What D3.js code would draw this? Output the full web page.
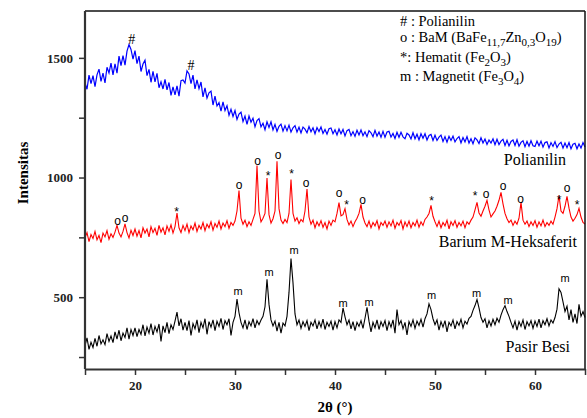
<!DOCTYPE html>
<html>
<head>
<meta charset="utf-8">
<script src="https://cdn.jsdelivr.net/npm/d3@7"></script>
<style>
  body { margin: 0; background: #fff; }
  svg text { font-family: "Liberation Serif", "Times New Roman", serif; }
  .axis text { font-weight: bold; font-size: 13px; fill: #222; font-family: "Liberation Serif", serif; }
  .axis path, .axis line { stroke: #333; }
  .mark { font-family: "Liberation Sans", Arial, sans-serif; }
</style>
</head>
<body>
<script>
// 2theta grid: 15 .. 65 step 0.2 (25 points per row = 5 degrees)
var twoThetaStart = 15;
var twoThetaStep = 0.2;

var polianilin = [
  1395,1369,1428,1392,1426,1380,1429,1453,1402,1436,1395,1461,1437,1478,1429,1475,1436,1507,1468,1509,1470,1528,1556,1535,1495,
  1530,1476,1507,1443,1474,1490,1426,1452,1398,1444,1400,1435,1375,1400,1370,1410,1366,1397,1343,1379,1345,1383,1340,1405,1408,
  1395,1446,1433,1392,1428,1370,1408,1371,1399,1337,1375,1332,1354,1361,1303,1340,1299,1313,1277,1316,1280,1300,1260,1285,1255,
  1280,1243,1265,1273,1234,1257,1222,1257,1231,1248,1212,1238,1246,1212,1227,1200,1233,1209,1233,1199,1222,1193,1214,1223,1194,
  1217,1195,1219,1190,1208,1217,1190,1210,1186,1211,1202,1187,1213,1191,1208,1183,1209,1192,1211,1184,1201,1181,1204,1207,1183,
  1200,1178,1203,1183,1201,1174,1196,1201,1175,1192,1172,1198,1178,1199,1175,1191,1171,1196,1187,1171,1197,1173,1190,1168,1193,
  1168,1190,1193,1169,1184,1163,1189,1168,1189,1170,1162,1185,1178,1161,1187,1162,1181,1157,1183,1164,1183,1157,1176,1180,1155,
  1177,1155,1169,1177,1151,1171,1148,1172,1155,1173,1149,1163,1171,1145,1167,1149,1171,1144,1162,1141,1166,1157,1142,1166,1144,
  1161,1138,1157,1144,1162,1137,1160,1138,1152,1160,1134,1156,1132,1151,1157,1134,1158,1131,1147,1154,1129,1151,1131,1154,1133,
  1130,1152,1133,1152,1127,1146,1149,1124,1146,1130,1150,1125,1140,1147,1123,1144,1125,1146,1120,1139,1143,1120,1140,1123,1146,
  1128
];

var bariumHeksaferit = [
  748,770,732,762,745,775,740,758,728,768,752,778,742,765,750,772,800,768,752,775,806,770,748,780,758,
  785,755,778,748,790,768,785,752,795,770,788,758,800,772,790,760,798,775,802,768,795,852,790,770,800,
  778,805,770,798,782,810,775,800,785,812,778,805,790,815,780,808,792,818,785,810,795,820,788,812,800,
  818,860,946,830,805,822,795,815,800,825,850,1050,860,815,830,850,998,845,810,828,860,1068,870,822,808,
  825,812,850,992,850,818,832,808,825,815,860,952,835,805,822,790,815,798,820,792,812,785,818,800,822,
  815,850,895,840,845,870,825,802,818,795,815,830,850,888,835,810,795,818,790,812,798,820,785,812,800,
  818,792,815,798,822,788,812,800,820,785,815,795,818,790,812,798,822,792,815,800,825,835,850,884,838,
  815,795,818,790,812,798,822,785,815,800,820,792,812,798,818,790,815,805,822,835,865,896,852,838,860,
  880,905,865,835,848,860,880,905,938,890,850,828,812,822,800,818,805,830,896,822,805,818,795,815,800,
  820,792,815,798,822,795,812,800,818,805,835,870,925,860,850,880,921,872,835,818,830,845,871,835,812,
  805
];

var pasirBesi = [
  298,330,282,312,290,328,295,340,305,322,302,348,315,338,310,355,325,362,318,350,332,372,325,365,340,
  372,335,365,345,385,338,375,350,390,342,378,355,388,315,380,352,395,348,385,365,400,438,380,410,362,
  395,360,402,340,390,368,405,352,395,372,410,345,398,375,405,360,400,378,412,365,402,385,410,340,395,
  420,492,435,395,372,405,365,398,380,410,372,402,385,405,420,460,575,470,405,380,400,358,395,350,392,
  380,420,520,662,560,430,385,405,370,398,378,402,360,395,380,405,368,398,375,408,365,395,378,400,362,
  398,372,405,395,455,418,385,405,368,398,360,395,378,402,370,412,458,400,355,395,372,405,365,398,378,
  402,360,398,375,405,350,448,385,402,368,395,342,398,378,405,370,400,382,408,375,410,430,472,448,410,
  385,405,362,398,375,402,355,395,380,405,368,398,382,408,372,400,388,412,420,445,465,490,455,415,395,
  410,372,402,380,408,385,412,395,425,448,465,440,420,395,372,400,362,398,378,405,365,398,380,402,370,
  400,378,408,372,402,385,410,380,405,392,415,450,535,520,480,440,462,405,448,395,430,390,470,420,440,
  415
];

// peak markers: [2theta, intensity at symbol centre]
var hashMarks = [[19.67, 1577], [25.6, 1469]];
var bamMarks = [[18.25, 818], [19.0, 828], [30.4, 967], [32.25, 1069], [34.3, 1093], [37.1, 975],
  [40.4, 935], [42.75, 905], [55.1, 930], [56.8, 963], [58.55, 909], [63.2, 954]];
var hematitMarks = [[24.17, 870], [33.3, 1019], [35.65, 1026], [41.15, 897], [49.65, 914],
  [54.0, 935], [62.4, 918], [64.2, 897]];
var magnetitMarks = [[30.3, 521], [33.4, 602], [35.9, 691], [40.8, 472], [43.4, 475],
  [49.65, 504], [54.15, 514], [57.3, 486], [63.0, 577]];

var xTicks = [15, 20, 25, 30, 35, 40, 45, 50, 55, 60, 65];
var yTicks = [250, 500, 750, 1000, 1250, 1500];

var w = 587, h = 418;
var plotLeft = 85, plotRight = 585, plotTop = 10, plotBottom = 369;

var svg = d3.select('body').append('svg')
  .attr('width', w)
  .attr('height', h);

var xScale = d3.scaleLinear().domain([15, 65]).range([plotLeft, plotRight]);
var yScale = d3.scaleLinear().domain([200, 1700]).range([plotBottom, plotTop]);

var line = d3.line()
  .x(function(d, i) { return xScale(twoThetaStart + i * twoThetaStep); })
  .y(function(d) { return yScale(d); });

svg.append('path').datum(pasirBesi)
  .attr('d', line).attr('fill', 'none').attr('stroke', '#000').attr('stroke-width', 1.1);
svg.append('path').datum(bariumHeksaferit)
  .attr('d', line).attr('fill', 'none').attr('stroke', '#f00').attr('stroke-width', 1.1);
svg.append('path').datum(polianilin)
  .attr('d', line).attr('fill', 'none').attr('stroke', '#0000ff').attr('stroke-width', 1.2);

// frame
svg.append('line').attr('x1', plotLeft).attr('x2', plotRight).attr('y1', plotTop + 1).attr('y2', plotTop + 1)
  .attr('stroke', '#111').attr('stroke-width', 1.5);
svg.append('line').attr('x1', plotRight).attr('x2', plotRight).attr('y1', plotTop + 1).attr('y2', plotBottom)
  .attr('stroke', '#111').attr('stroke-width', 1.5);

var xAxis = d3.axisBottom(xScale)
  .tickValues(xTicks)
  .tickSize(6)
  .tickSizeOuter(0)
  .tickPadding(6)
  .tickFormat(function(d) { return d % 10 === 0 ? d : ''; });

var yAxis = d3.axisLeft(yScale)
  .tickValues(yTicks)
  .tickSize(6)
  .tickSizeOuter(0)
  .tickPadding(6)
  .tickFormat(function(d) { return d % 500 === 0 ? d : ''; });

svg.append('g')
  .attr('class', 'x axis')
  .attr('transform', 'translate(0,' + plotBottom + ')')
  .call(xAxis);

svg.append('g')
  .attr('class', 'y axis')
  .attr('transform', 'translate(' + plotLeft + ',0)')
  .call(yAxis);

svg.selectAll('.axis path.domain').attr('stroke-width', 2.2);
svg.selectAll('.axis line').attr('stroke-width', 1.5);
svg.select('.y.axis path.domain').attr('d', 'M0,' + (plotTop + 1) + 'V' + plotBottom);

svg.append('text')
  .attr('transform', 'translate(28,173) rotate(-90)')
  .style('text-anchor', 'middle')
  .style('font-weight', 'bold')
  .style('font-size', '15px')
  .text('Intensitas');

svg.append('text')
  .attr('x', 335).attr('y', 412)
  .style('text-anchor', 'middle')
  .style('font-weight', 'bold')
  .style('font-size', '15px')
  .text('2\u03b8 (\u00b0)');

// peak symbols
function marks(list, sym, size, dy, family) {
  svg.append('g').selectAll('text')
    .data(list)
    .enter()
    .append('text')
    .attr('class', family ? '' : 'mark')
    .attr('x', function(d) { return xScale(d[0]); })
    .attr('y', function(d) { return yScale(d[1]) + dy; })
    .style('text-anchor', 'middle')
    .style('font-size', size + 'px')
    .text(sym);
}
marks(hashMarks, '#', 14, 5, 'serif');
marks(bamMarks, 'o', 12, 3.5);
marks(hematitMarks, '*', 12, 7);
marks(magnetitMarks, 'm', 11, 3);

// series labels
var seriesLabels = [['Polianilin', 566, 165], ['Barium M-Heksaferit', 577, 247], ['Pasir Besi', 570, 352]];
svg.append('g').selectAll('text')
  .data(seriesLabels)
  .enter()
  .append('text')
  .attr('x', function(d) { return d[1]; })
  .attr('y', function(d) { return d[2]; })
  .style('text-anchor', 'end')
  .style('font-size', '16px')
  .text(function(d) { return d[0]; });

// legend with subscripts
var legendLines = [
  [['# : Polianilin']],
  [['o : BaM (BaFe'], ['11,7', 1], ['Zn'], ['0,3', 1], ['O'], ['19', 1], [')']],
  [['*: Hematit (Fe'], ['2', 1], ['O'], ['3', 1], [')']],
  [['m : Magnetit (Fe'], ['3', 1], ['O'], ['4', 1], [')']]
];
var legendY = [25.5, 42, 61.5, 81];

legendLines.forEach(function(parts, i) {
  var t = svg.append('text')
    .attr('x', 400)
    .attr('y', legendY[i])
    .style('font-size', '14.5px');
  var shifted = false;
  parts.forEach(function(p) {
    var s = t.append('tspan').text(p[0]);
    if (p[1] && !shifted) { s.attr('dy', 4).style('font-size', '11px'); shifted = true; }
    else if (p[1]) { s.style('font-size', '11px'); }
    else if (shifted) { s.attr('dy', -4); shifted = false; }
  });
});
</script>
</body>
</html>
